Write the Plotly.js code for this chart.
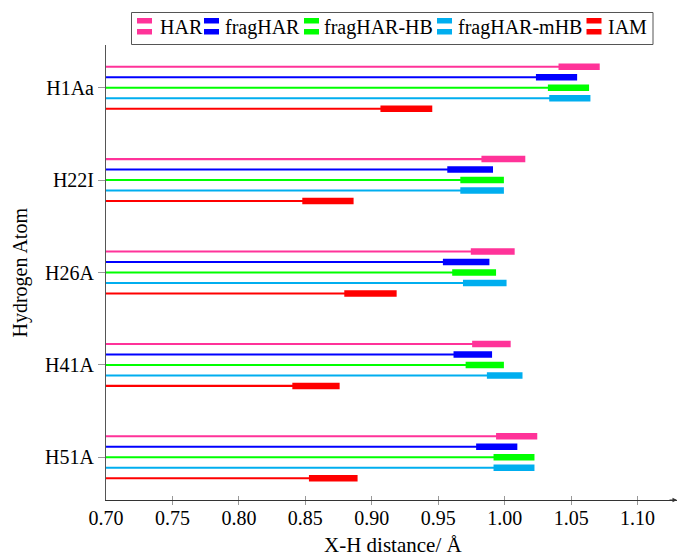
<!DOCTYPE html>
<html>
<head>
<meta charset="utf-8">
<script src="https://cdn.plot.ly/plotly-3.0.1.min.js"></script>
<style>html,body{margin:0;padding:0;background:#fff;}</style>
</head>
<body>
<div id="chart" style="width:680px;height:557px;"></div>
<script>
// ---- data ----
const atoms = ['H1Aa', 'H22I', 'H26A', 'H41A', 'H51A'];
const seriesNames = ['HAR', 'fragHAR', 'fragHAR-HB', 'fragHAR-mHB', 'IAM'];
const HAR        = [1.056, 0.999, 0.991, 0.990, 1.009];
const HAR_err    = [0.0155, 0.0165, 0.0165, 0.0145, 0.0155];
const fragHAR    = [1.039, 0.974, 0.971, 0.976, 0.994];
const fragHAR_err= [0.0155, 0.0172, 0.0175, 0.0145, 0.0155];
const HB         = [1.048, 0.983, 0.977, 0.985, 1.007];
const HB_err     = [0.0155, 0.0164, 0.0165, 0.0144, 0.0154];
const mHB        = [1.049, 0.983, 0.985, 1.000, 1.007];
const mHB_err    = [0.0155, 0.0164, 0.0164, 0.0134, 0.0154];
const IAM        = [0.926, 0.867, 0.899, 0.858, 0.871];
const IAM_err    = [0.0195, 0.0193, 0.0197, 0.0178, 0.0183];
const xTicks     = [0.70, 0.75, 0.80, 0.85, 0.90, 0.95, 1.00, 1.05, 1.10];

// ---- styles ----
const colors = ['#ff3399', '#0000ff', '#00ff00', '#00aeef', '#ff0000'];
const values = [HAR, fragHAR, HB, mHB, IAM];
const errs = [HAR_err, fragHAR_err, HB_err, mHB_err, IAM_err];
const FONT = 'Liberation Serif, Times New Roman, serif';
const step = 0.1135;
const thinW = 0.022;

const traces = values.map((v, i) => ({
  type: 'bar',
  orientation: 'h',
  name: seriesNames[i],
  y: atoms,
  x: v,
  width: thinW,
  offset: (i - 2) * step - thinW / 2,
  marker: {color: colors[i], line: {width: 0}},
  error_x: {type: 'data', array: errs[i], visible: true, color: colors[i], thickness: 6.5, width: 0},
  showlegend: false,
  hoverinfo: 'x+y+name'
}));

// plot area in pixels (for placing the hand-made legend and titles)
const L = 106, R = 677, T = 45, B = 500;
const px = x => (x - L) / (R - L);
const py = y => (B - y) / (B - T);

const shapes = [];
const annotations = [];
// legend box
shapes.push({type: 'rect', xref: 'paper', yref: 'paper', x0: px(131.5), x1: px(653), y0: py(44.5), y1: py(12.5),
  line: {color: '#555', width: 1}, fillcolor: 'rgba(0,0,0,0)'});
const iconX = [137, 204, 304, 437, 586.5];
const textX = [157.5, 223, 322, 456, 606];
seriesNames.forEach((n, i) => {
  [[18, 23.5], [29, 34.5]].forEach(r => {
    shapes.push({type: 'rect', xref: 'paper', yref: 'paper', x0: px(iconX[i]), x1: px(iconX[i] + 15),
      y0: py(r[1]), y1: py(r[0]), line: {width: 0}, fillcolor: colors[i]});
  });
  annotations.push({xref: 'paper', yref: 'paper', x: px(textX[i]), y: py(27.5), xanchor: 'left', yanchor: 'middle',
    text: n, showarrow: false, font: {family: FONT, size: 20, color: '#000'}});
});
// axis titles
annotations.push({xref: 'paper', yref: 'paper', x: px(393), y: py(545), xanchor: 'center', yanchor: 'middle',
  text: 'X-H distance/ Å', showarrow: false, font: {family: FONT, size: 21, color: '#000'}});
annotations.push({xref: 'paper', yref: 'paper', x: px(20), y: py(272.5), xanchor: 'center', yanchor: 'middle',
  text: 'Hydrogen Atom', textangle: -90, showarrow: false, font: {family: FONT, size: 20, color: '#000'}});
// arrow at the end of the x axis
annotations.push({xref: 'paper', yref: 'paper', x: 1, y: 0, ax: -9, ay: 0, axref: 'pixel', ayref: 'pixel',
  text: '', showarrow: true, arrowhead: 2, arrowsize: 0.9, arrowwidth: 1, arrowcolor: '#333', standoff: 0});

const layout = {
  width: 680, height: 557,
  margin: {l: L, r: 680 - R, t: T, b: 557 - B, pad: 0},
  paper_bgcolor: '#fff', plot_bgcolor: '#fff',
  barmode: 'overlay',
  showlegend: false,
  font: {family: FONT, size: 20, color: '#000'},
  xaxis: {
    range: [0.70, 0.70 + (R - L) / 1329],
    tickmode: 'array', tickvals: xTicks, ticktext: xTicks.map(t => t.toFixed(2)),
    ticks: 'inside', ticklen: 4, tickcolor: '#999', tickwidth: 1,
    minor: {tickmode: 'array', tickvals: xTicks.map(t => t + 1e-6), ticks: 'outside', ticklen: 4, tickcolor: '#999', tickwidth: 1, showgrid: false},
    showline: true, linecolor: '#333', linewidth: 1,
    showgrid: false, zeroline: false,
    tickfont: {family: FONT, size: 20, color: '#000'},
    fixedrange: true
  },
  yaxis: {
    type: 'category', categoryorder: 'array', categoryarray: atoms,
    range: [4.462, -0.462],
    ticks: 'outside', ticklen: 7, tickcolor: '#999', tickwidth: 1,
    showline: true, linecolor: '#555', linewidth: 1,
    showgrid: false, zeroline: false,
    tickfont: {family: FONT, size: 20, color: '#000'},
    fixedrange: true
  },
  shapes: shapes,
  annotations: annotations
};

Plotly.newPlot('chart', traces, layout, {displayModeBar: false, staticPlot: true});
</script>
</body>
</html>
